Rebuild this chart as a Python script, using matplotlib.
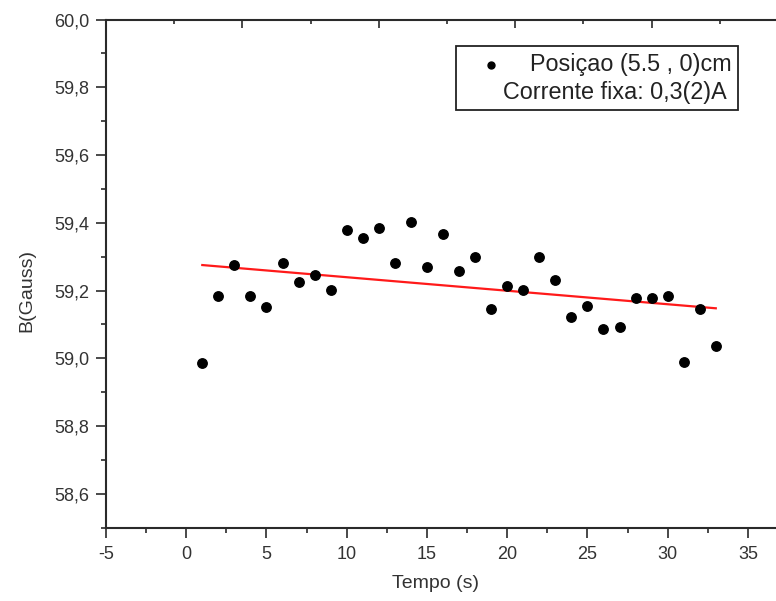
import numpy as np
import matplotlib
matplotlib.use("Agg")
import matplotlib.pyplot as plt
from matplotlib.ticker import MultipleLocator, FuncFormatter
from matplotlib.patches import Rectangle

plt.rcParams['font.family'] = ['Liberation Sans', 'DejaVu Sans']
plt.rcParams['axes.unicode_minus'] = False

tempo = [1, 2, 3, 4, 5, 6, 7, 8, 9, 10, 11, 12, 13, 14, 15, 16, 17,
         18, 19, 20, 21, 22, 23, 24, 25, 26, 27, 28, 29, 30, 31, 32, 33]
campo = [58.987, 59.183, 59.275, 59.183, 59.152, 59.281, 59.226, 59.245,
         59.202, 59.378, 59.354, 59.385, 59.281, 59.402, 59.269, 59.366,
         59.257, 59.298, 59.146, 59.214, 59.202, 59.298, 59.232, 59.122,
         59.153, 59.086, 59.092, 59.177, 59.177, 59.183, 58.988, 59.146,
         59.037]
legend_label = "Posiçao (5.5 , 0)cm"
legend_note = "Corrente fixa: 0,3(2)A"
x_label = "Tempo (s)"
y_label = "B(Gauss)"

W, H = 776, 601
fig = plt.figure(figsize=(W / 100, H / 100), dpi=100)
left_px, right_px, top_px, bot_px = 106, 788, 19.5, 527.7
ax = fig.add_axes([left_px / W, 1 - bot_px / H,
                   (right_px - left_px) / W, (bot_px - top_px) / H])

x = np.array(tempo, dtype=float)
y = np.array(campo, dtype=float)
coef = np.polyfit(x, y, 1)
xf = np.array([x.min(), x.max()])
ax.plot(xf, np.polyval(coef, xf), color='#ff1a1a', lw=1.6, zorder=2)
ax.plot(x, y, 'o', color='black', ms=6.8, zorder=3)

ax.set_xlim(-5, 37.5)
ax.set_ylim(58.5, 60.0)

spine_c = '#2a2a2a'
for s in ax.spines.values():
    s.set_linewidth(1.5)
    s.set_color(spine_c)
ax.spines['right'].set_visible(False)

ax.xaxis.set_major_locator(MultipleLocator(5))
ax.xaxis.set_minor_locator(MultipleLocator(2.5))
ax.yaxis.set_major_locator(MultipleLocator(0.2))
ax.yaxis.set_minor_locator(MultipleLocator(0.1))
ax.yaxis.set_major_formatter(FuncFormatter(
    lambda v, p: ("%.1f" % v).replace('.', ',') if v > 58.55 else ""))

ax.tick_params(axis='both', which='major', direction='out', length=7,
               width=1.2, color=spine_c, labelsize=13, labelcolor='#333333')
ax.tick_params(axis='y', which='major', pad=5)
ax.tick_params(axis='x', which='major', pad=6)
ax.tick_params(axis='both', which='minor', direction='out', length=3.5,
               width=1.2, color=spine_c)
ax.tick_params(top=False, right=False, which='both')

# top axis (own scale, inward ticks, no labels)
axt = ax.twiny()
axt.set_xlim(0, 10)
axt.xaxis.set_major_locator(MultipleLocator(2))
axt.xaxis.set_minor_locator(MultipleLocator(1))
axt.tick_params(axis='x', which='major', direction='in', length=6,
                width=1.2, color=spine_c, labeltop=False)
axt.tick_params(axis='x', which='minor', direction='in', length=3,
                width=1.2, color=spine_c)
for s in axt.spines.values():
    s.set_visible(False)

fig.text(435 / W, 1 - 583 / H, x_label, ha='center', va='center',
         fontsize=14, color='#333333')
fig.text(27 / W, 1 - 291 / H, y_label, ha='center', va='center',
         fontsize=14, color='#333333', rotation=90)

# legend box
bx0, by0, bx1, by1 = 456, 46, 738, 110
fig.patches.append(Rectangle((bx0 / W, 1 - by1 / H), (bx1 - bx0) / W,
                             (by1 - by0) / H, transform=fig.transFigure,
                             fill=False, edgecolor='#222222', lw=1.3))
fig.lines.append(plt.Line2D([491 / W], [1 - 64.5 / H], marker='o',
                            color='black', ms=5, transform=fig.transFigure))
fig.text(732 / W, 1 - 65 / H, legend_label, ha='right', va='center',
         fontsize=16.8, color='#222222')
fig.text(727 / W, 1 - 93 / H, legend_note, ha='right', va='center',
         fontsize=16.8, color='#222222')

fig.savefig("out.png", dpi=100)
